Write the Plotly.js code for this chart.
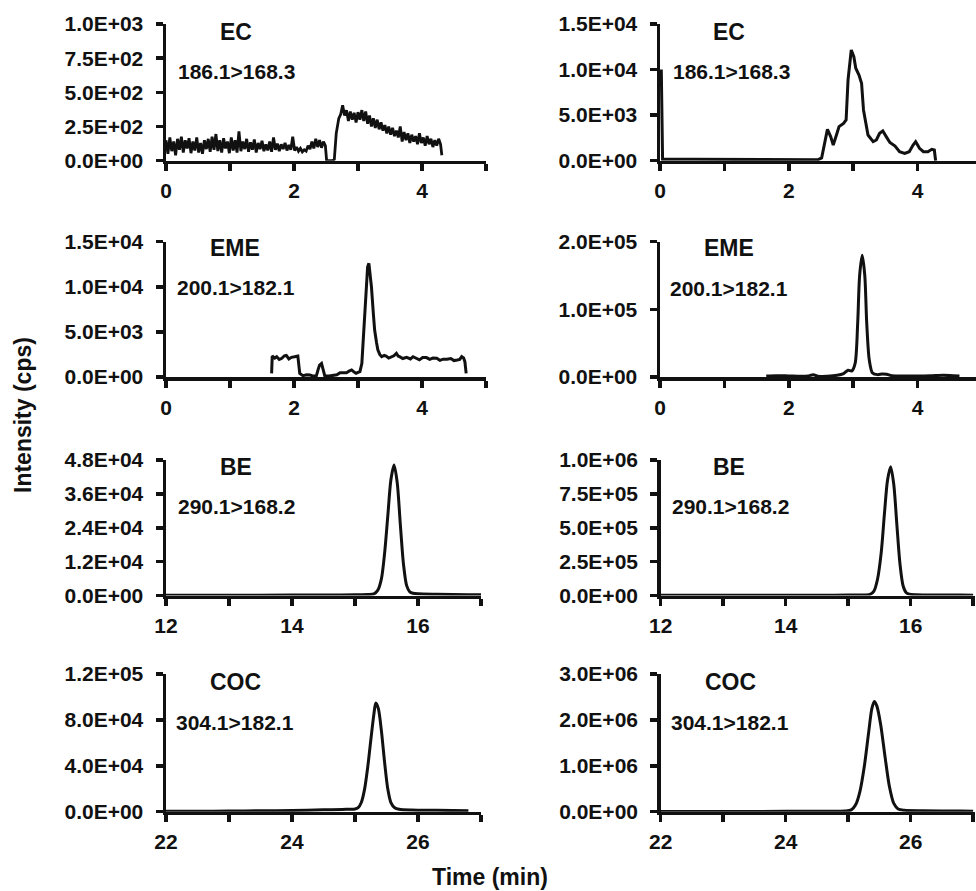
<!DOCTYPE html>
<html>
<head>
<meta charset="utf-8">
<script src="https://cdn.plot.ly/plotly-3.0.1.min.js"></script>
<style>html,body{margin:0;padding:0;background:#fff;}#chart{width:976px;height:891px;}</style>
</head>
<body>
<div id="chart"></div>
<script>
// ---------- DATA ----------
const compounds = ["EC", "EME", "BE", "COC"];
const transitions = ["186.1>168.3", "200.1>182.1", "290.1>168.2", "304.1>182.1"];

// Row 1 left: EC (noisy)
const ecL_t = [0,0.03,0.06,0.09,0.12,0.15,0.18,0.21,0.24,0.27,0.30,0.33,0.36,0.39,0.42,0.45,0.48,0.51,0.54,0.57,0.60,0.63,0.66,0.69,0.72,0.75,0.78,0.81,0.84,0.87,0.90,0.93,0.96,0.99,1.02,1.05,1.08,1.11,1.14,1.17,1.20,1.23,1.26,1.29,1.32,1.35,1.38,1.41,1.44,1.47,1.50,1.53,1.56,1.59,1.62,1.65,1.68,1.71,1.74,1.77,1.80,1.83,1.86,1.89,1.92,1.95,1.98,2.01,2.04,2.07,2.10,2.13,2.16,2.19,2.22,2.25,2.28,2.31,2.34,2.37,2.40,2.43,2.46,2.49,
  2.51,2.55,2.60,2.63,2.66,2.70,2.73,2.76,2.79,2.82,2.85,2.88,2.91,2.94,2.97,3.00,3.03,3.06,3.09,3.12,3.15,3.18,3.21,3.24,3.27,3.30,3.33,3.36,3.39,3.42,3.45,3.48,3.51,3.54,3.57,3.60,3.63,3.66,3.69,3.72,3.75,3.78,3.81,3.84,3.87,3.90,3.93,3.96,3.99,4.02,4.05,4.08,4.11,4.14,4.17,4.20,4.23,4.26,4.29,4.31];
const ecL_i = [150,50,170,70,140,40,160,80,175,60,150,90,165,55,140,75,170,60,130,50,150,85,160,65,175,80,195,70,150,60,165,90,140,55,170,75,150,60,215,70,140,85,160,65,135,80,155,60,130,85,145,70,120,75,140,65,170,80,125,70,120,85,130,75,115,80,175,75,100,70,90,65,80,70,110,85,140,90,160,100,150,95,140,110,
  0,0,0,10,200,310,340,405,330,370,290,360,300,350,280,355,300,370,290,360,270,330,250,310,240,300,230,280,220,260,200,250,190,240,180,220,170,250,140,210,150,200,130,190,140,180,120,200,130,170,110,180,120,160,100,150,110,160,120,40];

// Row 1 right: EC
const ecR_t = [0.02,0.04,0.5,1.0,1.5,2.0,2.45,2.51,2.56,2.60,2.65,2.69,2.74,2.78,2.85,2.89,2.92,2.97,3.01,3.04,3.09,3.13,3.16,3.23,3.31,3.36,3.41,3.46,3.52,3.57,3.65,3.72,3.80,3.87,3.93,3.97,4.03,4.09,4.16,4.22,4.26,4.28];
const ecR_i = [10000,150,150,120,80,50,100,300,2270,3440,2640,1720,2820,3740,4100,4470,8860,12150,11420,10150,9400,8500,5570,2820,2090,2270,3000,3260,2560,2000,1610,990,800,990,1720,2090,1360,990,990,1250,1170,0];

// Row 2 left: EME
const emeL_t = [1.65,1.66,1.70,1.73,1.77,1.81,1.85,1.88,1.92,1.96,2.01,2.06,2.09,2.14,2.20,2.25,2.30,2.35,2.38,2.40,2.43,2.45,2.48,2.55,2.61,2.67,2.72,2.77,2.82,2.86,2.90,2.94,2.97,3.00,3.03,3.06,3.08,3.11,3.13,3.15,3.17,3.19,3.21,3.24,3.26,3.29,3.31,3.34,3.37,3.41,3.44,3.48,3.52,3.56,3.60,3.63,3.65,3.70,3.76,3.82,3.86,3.91,3.96,4.01,4.07,4.12,4.17,4.23,4.28,4.33,4.39,4.45,4.50,4.55,4.59,4.62,4.65,4.67,4.69];
const emeL_i = [400,2330,2100,2250,1950,2070,2350,2400,2000,2180,2250,2330,400,150,250,220,100,150,900,1330,1510,1000,150,100,150,250,480,450,480,650,780,550,400,500,590,1500,4100,8000,10750,12200,12600,11500,10000,7000,5200,3800,3000,2500,2250,2400,2330,2100,2250,2350,2620,2300,2250,2050,2180,2000,2250,2070,1900,2150,2150,1950,2100,2070,1850,1980,1960,2050,1820,1880,1950,2250,2100,1700,400];

// Row 2 right: EME
const emeR_t = [1.65,1.80,2.00,2.20,2.30,2.38,2.45,2.60,2.75,2.85,2.92,2.98,3.03,3.07,3.10,3.14,3.18,3.21,3.25,3.30,3.38,3.45,3.52,3.60,3.80,4.00,4.20,4.40,4.55,4.65];
const emeR_i = [1500,2000,1500,1000,1500,3500,1000,1200,2500,5000,10000,9000,20000,80000,150000,180000,150000,80000,25000,6000,3500,4500,4000,2000,1500,1500,1800,2500,1800,1500];

// Row 3 left: BE
const beL_t = [12.0,13.0,14.0,14.6,15.0,15.2,15.30,15.36,15.42,15.47,15.52,15.57,15.62,15.67,15.72,15.77,15.82,15.87,15.92,16.0,16.3,16.8,17.0];
const beL_i = [100,100,150,150,250,350,600,1800,6000,15000,28000,41000,46200,40000,25000,11000,3500,1300,800,600,450,300,250];

// Row 3 right: BE
const beR_t = [12.0,13.0,14.0,14.6,15.0,15.2,15.35,15.41,15.47,15.53,15.58,15.63,15.68,15.73,15.78,15.83,15.88,15.93,15.98,16.1,16.4,16.8,17.0];
const beR_i = [1000,1000,1500,2000,3000,4000,8000,30000,120000,320000,600000,850000,950000,820000,520000,230000,70000,20000,10000,6000,4000,3000,2500];

// Row 4 left: COC
const cocL_t = [22.0,22.5,23.0,23.5,24.0,24.5,24.8,25.0,25.05,25.10,25.15,25.20,25.25,25.30,25.33,25.37,25.42,25.47,25.52,25.57,25.63,25.70,25.90,26.3,26.8];
const cocL_i = [300,400,600,800,1100,1600,2000,2400,3500,8000,19000,38000,62000,85000,94700,90000,70000,43000,20000,8000,3500,2200,1500,1200,800];

// Row 4 right: COC
const cocR_t = [22.0,23.0,24.0,24.6,24.95,25.05,25.12,25.19,25.26,25.33,25.38,25.42,25.46,25.52,25.59,25.66,25.73,25.80,25.90,26.2,26.8,27.0];
const cocR_i = [5000,5000,8000,10000,15000,40000,150000,450000,1000000,1750000,2250000,2400000,2300000,1900000,1200000,550000,180000,60000,30000,20000,15000,12000];

// Y tick values & labels (one set per panel, order: row1L,row1R,row2L,row2R,...)
const yTickVals = [
  [0,250,500,750,1000], [0,5000,10000,15000],
  [0,5000,10000,15000], [0,100000,200000],
  [0,12000,24000,36000,48000], [0,250000,500000,750000,1000000],
  [0,40000,80000,120000], [0,1000000,2000000,3000000]
];
const yTickText = [
  ["0.0E+00","2.5E+02","5.0E+02","7.5E+02","1.0E+03"], ["0.0E+00","5.0E+03","1.0E+04","1.5E+04"],
  ["0.0E+00","5.0E+03","1.0E+04","1.5E+04"], ["0.0E+00","1.0E+05","2.0E+05"],
  ["0.0E+00","1.2E+04","2.4E+04","3.6E+04","4.8E+04"], ["0.0E+00","2.5E+05","5.0E+05","7.5E+05","1.0E+06"],
  ["0.0E+00","4.0E+04","8.0E+04","1.2E+05"], ["0.0E+00","1.0E+06","2.0E+06","3.0E+06"]
];
const xTickVals = [[0,1,2,3,4,5],[0,1,2,3,4,5],[12,13,14,15,16,17],[22,23,24,25,26,27]];
const xTickText = [["0","","2","","4",""],["0","","2","","4",""],["12","","14","","16",""],["22","","24","","26",""]];
const xTitle = "Time (min)";
const yTitle = "Intensity (cps)";

// ---------- LAYOUT / DRAW ----------
const W = 976, H = 891;
const series = [
  [ecL_t, ecL_i], [ecR_t, ecR_i],
  [emeL_t, emeL_i], [emeR_t, emeR_i],
  [beL_t, beL_i], [beR_t, beR_i],
  [cocL_t, cocL_i], [cocR_t, cocR_i]
];
const shapes = ["linear","linear","linear","spline","spline","spline","spline","spline"];
const widths = [2.8,3,3,3,3,3,3,3];
// pixel geometry
const rowTopBot = [[24,160.7],[241.7,377],[460,595.5],[674,811.7]];
const colX = [
  [[166,486],[660,976]],
  [[166,486],[660,976]],
  [[166,481],[660.7,975]],
  [[166,481],[660.7,975]]
];
const xRanges = [
  [[0,5],[0,4.907]],
  [[0,5],[0,4.907]],
  [[12,17],[12,17.03]],
  [[22,27],[22,27.03]]
];
const FAM = "Liberation Sans, Arial, sans-serif";
const INK = "#111";
const traces = [];
const layout = {
  width: W, height: H,
  margin: {l:0, r:0, t:0, b:0},
  paper_bgcolor: "#fff", plot_bgcolor: "#fff",
  showlegend: false,
  font: {family: FAM, size: 21, color: INK, weight: "bold"},
  annotations: [],
};
for (let k = 0; k < 8; k++) {
  const r = Math.floor(k/2), c = k % 2;
  const n = k + 1;
  const xa = "xaxis" + (n === 1 ? "" : n), ya = "yaxis" + (n === 1 ? "" : n);
  const xr = "x" + (n === 1 ? "" : n), yr = "y" + (n === 1 ? "" : n);
  traces.push({
    x: series[k][0], y: series[k][1], xaxis: xr, yaxis: yr,
    type: "scatter", mode: "lines",
    line: {color: INK, width: widths[k], shape: shapes[k], smoothing: 0.8},
    hoverinfo: "skip"
  });
  const [x0, x1] = colX[r][c];
  const [yt, yb] = rowTopBot[r];
  layout[xa] = {
    domain: [x0/W, Math.min(1, x1/W)], range: xRanges[r][c], anchor: yr,
    showline: true, linecolor: INK, linewidth: 3.5, mirror: false,
    ticks: "outside", ticklen: 7, tickwidth: 3.5, tickcolor: INK,
    tickvals: xTickVals[r], ticktext: xTickText[r],
    showgrid: false, zeroline: false, fixedrange: true,
    tickfont: {family: FAM, size: 21, color: INK, weight: "bold"},
    ticklabelstandoff: 2
  };
  layout[ya] = {
    domain: [1 - yb/H, 1 - yt/H], range: [0, yTickVals[k][yTickVals[k].length-1]], anchor: xr,
    showline: true, linecolor: INK, linewidth: 3.5,
    ticks: "outside", ticklen: 7, tickwidth: 3.5, tickcolor: INK,
    tickvals: yTickVals[k], ticktext: yTickText[k],
    showgrid: false, zeroline: false, fixedrange: true,
    tickfont: {family: FAM, size: 21, color: INK, weight: "bold"},
    ticklabelstandoff: 8
  };
}
// compound names & transitions (pixel positions converted to paper)
const namePos = [[236,32],[729,32],[235,248],[729,248],[236,467],[729,467],[235,682],[730,682]];
const transPos = [[236,72],[731,72],[236,287],[729,288],[236,507],[730,507],[235,722],[730,722]];
for (let k = 0; k < 8; k++) {
  const r = Math.floor(k/2);
  layout.annotations.push({
    xref: "paper", yref: "paper", x: namePos[k][0]/W, y: 1 - namePos[k][1]/H,
    text: compounds[r], showarrow: false, xanchor: "center", yanchor: "middle",
    font: {family: FAM, size: 23, color: INK, weight: "bold"}
  });
  layout.annotations.push({
    xref: "paper", yref: "paper", x: transPos[k][0]/W, y: 1 - transPos[k][1]/H,
    text: transitions[r], showarrow: false, xanchor: "center", yanchor: "middle",
    font: {family: FAM, size: 21, color: INK, weight: "bold"}
  });
}
layout.annotations.push({
  xref: "paper", yref: "paper", x: 490/W, y: 1 - 877/H, text: xTitle, showarrow: false,
  xanchor: "center", yanchor: "middle",
  font: {family: FAM, size: 23, color: INK, weight: "bold"}
});
layout.annotations.push({
  xref: "paper", yref: "paper", x: 23/W, y: 1 - 415/H, text: yTitle, showarrow: false,
  textangle: -90, xanchor: "center", yanchor: "middle",
  font: {family: FAM, size: 23, color: INK, weight: "bold"}
});
Plotly.newPlot("chart", traces, layout, {displayModeBar: false, staticPlot: true});
</script>
</body>
</html>
